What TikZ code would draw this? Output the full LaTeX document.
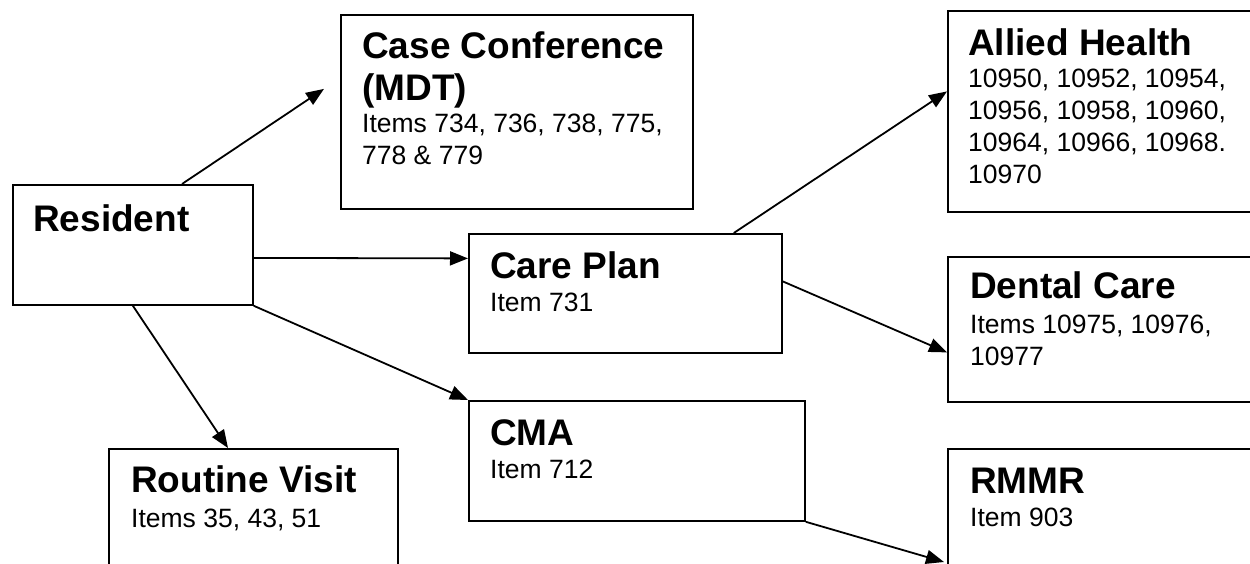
\documentclass[tikz,border=0pt]{standalone}
\usepackage{fontspec}
\setmainfont{Liberation Sans}
\usetikzlibrary{arrows.meta}
\begin{document}
\begin{tikzpicture}[x=1pt, y=-1pt, line join=miter, >={Triangle[length=18pt,width=14pt]},
	box/.style={draw, line width=1.8pt, rectangle, inner sep=0pt, anchor=north west},
	title/.style={anchor=base west, inner sep=0pt, align=left, font=\fontsize{37}{42}\selectfont\bfseries},
	items/.style={anchor=base west, inner sep=0pt, align=left, font=\fontsize{26.5}{32}\selectfont},
	link/.style={->, line width=1.8pt}]
	\useasboundingbox (0,0) rectangle (1250,563);
	\clip (0,0) rectangle (1250,563);
	% boxes
	\node[box, minimum width=240pt, minimum height=120pt] (res) at (12,184) {};
	\node[box, minimum width=352pt, minimum height=194pt] (conf) at (340,14) {};
	\node[box, minimum width=313pt, minimum height=119pt] (care) at (468,233) {};
	\node[box, minimum width=336pt, minimum height=120pt] (cma) at (468,400) {};
	\node[box, minimum width=289pt, minimum height=132pt] (routine) at (108,448) {};
	\node[box, minimum width=315pt, minimum height=201pt] (allied) at (947,10) {};
	\node[box, minimum width=315pt, minimum height=145pt] (dental) at (947,256) {};
	\node[box, minimum width=315pt, minimum height=132pt] (rmmr) at (947,448) {};
	% texts (base = last line)
	\node[title] (res-t) at (33,231) {Resident};
	\node[title] (conf-t) at (362,100) {Case Conference\\(MDT)};
	\node[items] (conf-i) at (362,164) {Items 734, 736, 738, 775,\\778 \& 779};
	\node[title] (care-t) at (490,278) {Care Plan};
	\node[items] (care-i) at (490,311) {Item 731};
	\node[title] (cma-t) at (490,445) {CMA};
	\node[items] (cma-i) at (490,478) {Item 712};
	\node[title] (routine-t) at (131,492) {Routine Visit};
	\node[items] (routine-i) at (131,527) {Items 35, 43, 51};
	\node[title] (allied-t) at (968,55) {Allied Health};
	\node[items] (allied-i) at (968,183) {10950, 10952, 10954,\\10956, 10958, 10960,\\10964, 10966, 10968.\\10970};
	\node[title] (dental-t) at (970,298) {Dental Care};
	\node[items] (dental-i) at (970,365) {Items 10975, 10976,\\10977};
	\node[title] (rmmr-t) at (970,493) {RMMR};
	\node[items] (rmmr-i) at (970,526) {Item 903};
	% links
	\draw[link] ([xshift=170pt]res.north west) -- ([xshift=-16pt,yshift=23pt]conf.west);
	\draw[link] ([yshift=-13pt]res.east) -- ([yshift=35pt]care.west);
	\draw[link] (res.south east) -- (cma.north west);
	\draw[link] (res.south) -- ([xshift=120pt]routine.north west);
	\draw[link] ([xshift=-49pt]care.north east) -- ([yshift=20pt]allied.west);
	\draw[link] ([yshift=12pt]care.east) -- ([yshift=-23pt]dental.west);
	\draw[link] (cma.south east) -- ([xshift=-3pt,yshift=-114pt]rmmr.north west);
\end{tikzpicture}
\end{document}
